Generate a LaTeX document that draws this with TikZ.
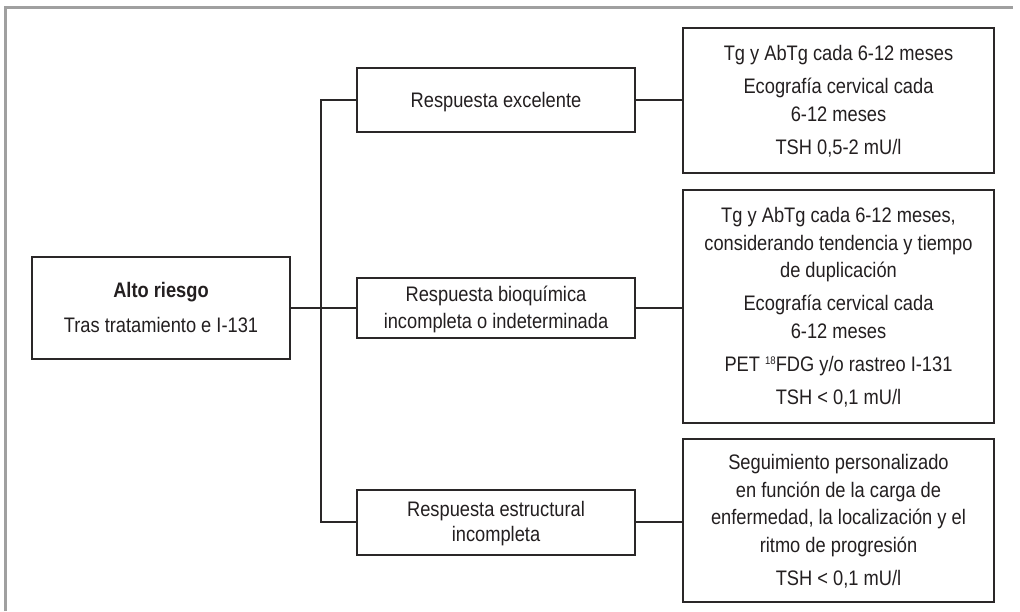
\documentclass[tikz,border=0pt]{standalone}
\usepackage{fontspec}
\setmainfont{Liberation Sans}[FakeStretch=0.87]
\definecolor{boxc}{HTML}{2A2728}
\definecolor{txtc}{HTML}{231F20}
\definecolor{framec}{HTML}{A0A0A0}
\newcommand\vs{\rule[-6pt]{0pt}{26pt}}
\newcommand\supnum[1]{\raisebox{6.5pt}{\fontsize{11}{11}\selectfont #1}}
\begin{document}
\begin{tikzpicture}[x=1pt,y=-1pt,
  box/.style={draw=boxc, line width=2pt, fill=white, align=center, inner sep=0pt,
    text=txtc, font=\fontsize{21}{27.5}\selectfont},
  link/.style={draw=boxc, line width=2pt, line join=miter}]
\useasboundingbox (0,0) rectangle (1020,611);
\fill[white] (0,0) rectangle (1020,611);
\draw[framec, line width=3pt] (5.5,611) -- (5.5,7.5) -- (1013,7.5);

\node[box, minimum width=258pt, minimum height=102pt] (alto) at (161,308)
  {\vs\textbf{Alto riesgo}\\[7.5pt]\vs Tras tratamiento e I-131};

\node[box, minimum width=278pt, minimum height=64pt] (r1) at (496,100)
  {\vs Respuesta excelente};
\node[box, minimum width=278pt, minimum height=60pt] (r2) at (496,308)
  {\vs Respuesta bioquímica\\\vs incompleta o indeterminada};
\node[box, minimum width=278pt, minimum height=65pt] (r3) at (496,522)
  {\vs Respuesta estructural\\[-2.5pt]\vs incompleta};

\node[box, minimum width=311pt, minimum height=145pt] (s1) at (838.5,100.5)
  {\vs Tg y AbTg cada 6-12 meses\\[5.5pt]\vs Ecografía cervical cada\\\vs 6-12 meses\\[5.5pt]\vs TSH 0,5-2 mU/l};
\node[box, minimum width=311pt, minimum height=233pt] (s2) at (838.5,306.5)
  {\vs Tg y AbTg cada 6-12 meses,\\\vs considerando tendencia y tiempo\\\vs de duplicación\\[5.5pt]\vs Ecografía cervical cada\\\vs 6-12 meses\\[5.5pt]\vs PET \supnum{18}FDG y/o rastreo I-131\\[5.5pt]\vs TSH < 0,1 mU/l};
\node[box, minimum width=311pt, minimum height=163pt] (s3) at (838.5,520.5)
  {\vs Seguimiento personalizado\\\vs en función de la carga de\\\vs enfermedad, la localización y el\\\vs ritmo de progresión\\[5.5pt]\vs TSH < 0,1 mU/l};

\coordinate (t1) at (321,100);
\coordinate (t3) at (321,522);
\draw[link] (r1.west) -- (t1) -- (t3) -- (r3.west);
\draw[link] (alto.east) -- (r2.west);
\draw[link] (r1.east) -- (r1.east -| s1.west);
\draw[link] (r2.east) -- (r2.east -| s2.west);
\draw[link] (r3.east) -- (r3.east -| s3.west);
\end{tikzpicture}
\end{document}
